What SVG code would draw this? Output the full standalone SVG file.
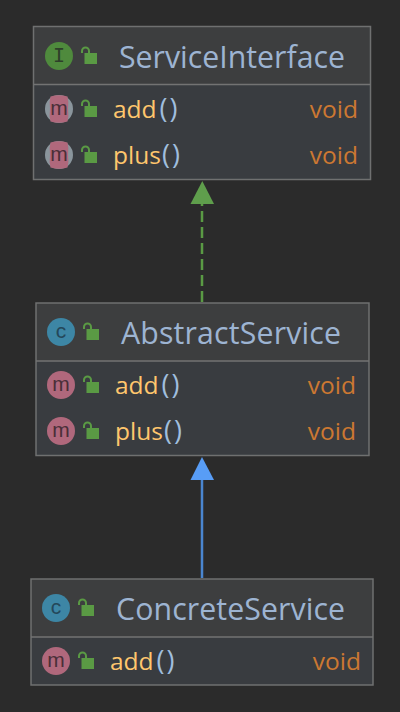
<svg xmlns="http://www.w3.org/2000/svg" width="400" height="712" viewBox="0 0 400 712">
<style>
text{font-family:"Open Sans","Noto Sans","Liberation Sans",sans-serif}
.hd{fill:#3d3e3f}
.bd{fill:#393c40}
.fr{fill:none;stroke:#6f7070;stroke-width:1.5}
.dv{stroke:#737373;stroke-width:1.5}
.title{font-size:30.300px;fill:#9db4d2}
.m{font-size:24.500px;fill:#ffc66d}
.p{font-size:27px;letter-spacing:2px;fill:#a0bede}
.r{font-size:24.500px;fill:#cc7832;text-anchor:end}
.cI{fill:#4f8a3d}.cC{fill:#3d86a5}.cM{fill:#b0687c}
.g{font-size:21px;font-family:"Liberation Sans",sans-serif;text-anchor:middle}
.gi{font-size:20px;font-family:"DejaVu Sans Mono",monospace;text-anchor:middle}
.lk{fill:#5a9a44}
.sh{fill:none;stroke:#5a9a44;stroke-width:2}
</style>
<defs>
<g id="lock"><rect x="0.500" y="1" width="12.500" height="11" class="lk"/><path d="M-2 1V-1a3.500 3.500 0 0 1 7 0V1" class="sh"/></g>
<g id="mI"><circle r="14" class="cM"/><text class="g" y="5.500" fill="#4a2f38">m</text></g>
<g id="mI2"><circle r="14" fill="#8a959c"/><path d="M-8.500 -12.500Q0 -15 8.500 -12.500Q10 -7 9 0Q10 7 8.500 12.500Q0 15 -8.500 12.500Q-10 7 -9 0Q-10 -7 -8.500 -12.500Z" class="cM"/><text class="g" y="5.500" fill="#4a2f38">m</text></g>
</defs>
<rect width="400" height="712" fill="#2b2b2b"/>
<g id="connectors">
<path d="M202 302V204" fill="none" stroke="#5a9a44" stroke-width="2.500" stroke-dasharray="11 5"/>
<path d="M202.300 181L214 204H190.500Z" fill="#5f9e4c"/>
<path d="M202 578V480" fill="none" stroke="#4a86d0" stroke-width="2.500"/>
<path d="M202 457L214 480H190.500Z" fill="#589df6"/>
</g>
<g id="ServiceInterface">
<rect x="33.500" y="26.500" width="337" height="58" class="hd"/>
<rect x="33.500" y="84.500" width="337" height="95" class="bd"/>
<rect x="33.500" y="26.500" width="337" height="153" class="fr"/>
<line x1="33.500" y1="84.500" x2="370.500" y2="84.500" class="dv"/>
<circle cx="59" cy="56" r="14" class="cI"/>
<text class="gi" x="59" y="62" fill="#2e3f2a">I</text>
<use href="#lock" x="84" y="52"/>
<text class="title" x="119" y="68" textLength="226">ServiceInterface</text>
<use href="#mI2" x="59" y="109"/>
<use href="#lock" x="84" y="105"/>
<text class="m" x="113" y="118">add</text><text class="p" x="159.500" y="118">()</text>
<text class="r" x="358" y="118">void</text>
<use href="#mI2" x="59" y="155"/>
<use href="#lock" x="84" y="151"/>
<text class="m" x="113" y="164">plus</text><text class="p" x="162" y="164">()</text>
<text class="r" x="358" y="164">void</text>
</g>
<g id="AbstractService">
<rect x="36" y="303" width="333" height="58" class="hd"/>
<rect x="36" y="361" width="333" height="95" class="bd"/>
<rect x="36" y="303" width="333" height="152.500" class="fr"/>
<line x1="36" y1="361" x2="369" y2="361" class="dv"/>
<circle cx="61" cy="332" r="14" class="cC"/>
<text class="g" x="61" y="338" fill="#24485a">c</text>
<use href="#lock" x="86" y="328"/>
<text class="title" x="121" y="344" textLength="220">AbstractService</text>
<use href="#mI" x="61" y="385"/>
<use href="#lock" x="86" y="381"/>
<text class="m" x="115" y="394">add</text><text class="p" x="161.500" y="394">()</text>
<text class="r" x="356" y="394">void</text>
<use href="#mI" x="61" y="431"/>
<use href="#lock" x="86" y="427"/>
<text class="m" x="115" y="440">plus</text><text class="p" x="164" y="440">()</text>
<text class="r" x="356" y="440">void</text>
</g>
<g id="ConcreteService">
<rect x="31" y="579" width="342" height="58" class="hd"/>
<rect x="31" y="637" width="342" height="48" class="bd"/>
<rect x="31" y="579" width="342" height="106" class="fr"/>
<line x1="31" y1="637" x2="373" y2="637" class="dv"/>
<circle cx="56" cy="608" r="14" class="cC"/>
<text class="g" x="56" y="614" fill="#24485a">c</text>
<use href="#lock" x="81" y="604"/>
<text class="title" x="116" y="620" textLength="229">ConcreteService</text>
<use href="#mI" x="56" y="661"/>
<use href="#lock" x="81" y="657"/>
<text class="m" x="110" y="670">add</text><text class="p" x="156.500" y="670">()</text>
<text class="r" x="361" y="670">void</text>
</g>
</svg>
